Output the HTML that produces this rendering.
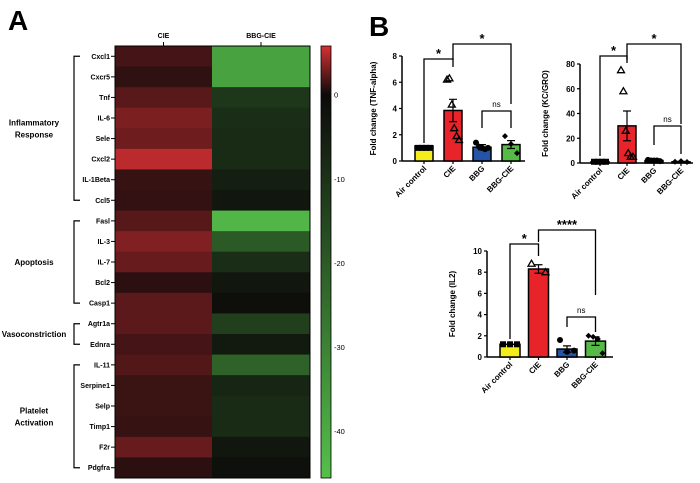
<!DOCTYPE html>
<html><head><meta charset="utf-8"><style>
body{margin:0;background:#fff;}
svg{display:block;font-family:"Liberation Sans",Arial,sans-serif;}
</style></head><body>
<svg id="fig" width="700" height="483" viewBox="0 0 700 483">
<text x="8" y="30" font-size="28" font-weight="bold">A</text>
<text x="369" y="36" font-size="28" font-weight="bold">B</text>
<g id="heat"></g>
<g id="c1"></g>
<g id="c2"></g>
<g id="c3"></g>
</svg>
<script>
const genes=["Cxcl1","Cxcr5","Tnf","IL-6","Sele","Cxcl2","IL-1Beta","Ccl5","Fasl","IL-3","IL-7","Bcl2","Casp1","Agtr1a","Ednra","IL-11","Serpine1","Selp","Timp1","F2r","Pdgfra"];
const heatCols=["CIE","BBG-CIE"];
const cieVals=[1.6,1.0,2.2,3.2,2.8,5.0,1.2,1.1,2.1,3.3,2.6,0.9,2.3,2.3,1.6,2.0,1.3,1.3,1.2,2.6,0.9];
const bbgVals=[-38,-38,-11,-9,-8,-8,-5,-3,-43,-20,-9,-3,-1,-13,-4,-22,-7,-8,-8,-3,-1.5];
const cbTicks=[0,-10,-20,-30,-40];
const groups=[["Inflammatory","Response",0,7],["Apoptosis","",8,12],["Vasoconstriction","",13,14],["Platelet","Activation",15,20]];

const tnfCats=["Air control","CIE","BBG","BBG-CIE"];
const tnfMeans=[1.15,3.85,1.05,1.25];
const tnfErr=[0,0.85,0.2,0.3];
const tnfPts=[[1,1,1,1],[6.2,6.3,4.3,2.5,1.9,1.6],[1.4,1.1,1.0,0.9,1.0],[1.9,1.3,0.6]];
const tnfTicks=[0,2,4,6,8];

const kcCats=["Air control","CIE","BBG","BBG-CIE"];
const kcMeans=[1,30,2,1];
const kcErr=[0,12,0.5,0.3];
const kcPts=[[1,1,1,1],[75,58,26,8,5,5],[2.5,2,2,2,1.5],[1,1.5,0.8]];
const kcTicks=[0,20,40,60,80];

const il2Cats=["Air control","CIE","BBG","BBG-CIE"];
const il2Means=[1.2,8.3,0.75,1.5];
const il2Err=[0,0.4,0.3,0.4];
const il2Pts=[[1.2,1.2,1.2],[8.8,8.0],[1.6,0.5,0.6],[2.0,1.9,1.7,0.35]];
const il2Ticks=[0,2,4,6,8,10];

const NS="http://www.w3.org/2000/svg";
function el(p,t,a){const e=document.createElementNS(NS,t);for(const k in a)e.setAttribute(k,a[k]);p.appendChild(e);return e;}

// heatmap
const H=document.getElementById('heat');
const hx0=115,hxm=212,hx1=310,hy0=46,hy1=478,rh=(hy1-hy0)/genes.length;
const vTop=5.8,vBot=-45.6,cbY=v=>hy0+(vTop-v)/(vTop-vBot)*(hy1-hy0);
function col(v){let c;if(v>=0){const t=v/vTop;c=[12+t*(215-12),10+t*(48-10),10+t*(52-10)];}else{const t=v/vBot;c=[12+t*(85-12),10+t*(192-10),10+t*(75-10)];}return `rgb(${c.map(Math.round).join(',')})`;}
genes.forEach((g,i)=>{
  const y=hy0+i*rh;
  const r1=el(H,'rect',{x:hx0,y:y,width:hxm-hx0,height:rh+0.5,fill:col(cieVals[i])});
  
  const r2=el(H,'rect',{x:hxm,y:y,width:hx1-hxm,height:rh+0.5,fill:col(bbgVals[i])});
  
  el(H,'line',{x1:hx0-4,x2:hx0,y1:y+rh/2,y2:y+rh/2,stroke:'#000','stroke-width':1});
  const t=el(H,'text',{x:hx0-5,y:y+rh/2+2.5,'font-size':7,'font-weight':'bold','text-anchor':'end'});t.textContent=g;
  
});
el(H,'rect',{x:hx0,y:hy0,width:hx1-hx0,height:hy1-hy0,fill:'none',stroke:'#000','stroke-width':1});
heatCols.forEach((c,i)=>{const cx=i?(hxm+hx1)/2:(hx0+hxm)/2;
  el(H,'line',{x1:cx,x2:cx,y1:hy0-4,y2:hy0,stroke:'#000'});
  const t=el(H,'text',{x:cx,y:hy0-8,'font-size':7,'font-weight':'bold','text-anchor':'middle'});t.textContent=c;
  });
// colorbar
const defs=el(H,'defs',{});const lg=el(defs,'linearGradient',{id:'cb',x1:0,y1:0,x2:0,y2:1});
[vTop,3,0,-10,-20,-30,-40,vBot].forEach(v=>el(lg,'stop',{offset:(cbY(v)-hy0)/(hy1-hy0),'stop-color':col(v)}));
const cb=el(H,'rect',{x:321,y:hy0,width:10,height:hy1-hy0,fill:'url(#cb)',stroke:'#000','stroke-width':0.8});

cbTicks.forEach(v=>{const t=el(H,'text',{x:334,y:cbY(v)+3,'font-size':7.5});t.textContent=v===0?'0':String(v);
  });
groups.forEach(g=>{const ya=hy0+g[2]*rh+rh/2,yb=hy0+g[3]*rh+rh/2;
  el(H,'path',{d:`M80 ${ya}H74V${yb}H80`,fill:'none',stroke:'#000','stroke-width':1.2});
  const ym=(ya+yb)/2;const t=el(H,'text',{x:34,y:g[1]?ym-3:ym+3,'font-size':8,'font-weight':'bold','text-anchor':'middle'});
  
  el(t,'tspan',{x:34}).textContent=g[0];if(g[1]){el(t,'tspan',{x:34,dy:12}).textContent=g[1];}});

// bar charts
const fills=['#f5ec1b','#e8232a','#2553a8','#57b947'];
const marks=['sq','tri','circ','diamond'];
function chart(id,cfg){
  const G=document.getElementById(id);
  const yS=v=>cfg.y0-(v/cfg.max)*(cfg.y0-cfg.yTop);
  const xS=i=>cfg.x1+i*cfg.step;
  el(G,'line',{x1:cfg.ax,x2:cfg.ax,y1:yS(cfg.max),y2:cfg.y0,stroke:'#000','stroke-width':1.5});
  el(G,'line',{x1:cfg.ax,x2:cfg.axEnd,y1:cfg.y0,y2:cfg.y0,stroke:'#000','stroke-width':1.5});
  cfg.ticks.forEach(v=>{el(G,'line',{x1:cfg.ax-3,x2:cfg.ax,y1:yS(v),y2:yS(v),stroke:'#000','stroke-width':1.2});
    const t=el(G,'text',{x:cfg.ax-5,y:yS(v)+3,'font-size':8,'font-weight':'bold','text-anchor':'end'});t.textContent=v;
    });
  const tt=el(G,'text',{transform:`translate(${cfg.titleX},${(cfg.y0+yS(cfg.max))/2}) rotate(-90)`,'font-size':8,'font-weight':'bold','text-anchor':'middle'});
  tt.textContent=cfg.title;
  cfg.cats.forEach((c,i)=>{const cx=xS(i),w=cfg.bw,m=cfg.means[i];
    const b=el(G,'rect',{x:cx-w/2,y:yS(m),width:w,height:cfg.y0-yS(m),fill:fills[i],stroke:'#000','stroke-width':1.5});
    
    if(cfg.err[i]>0){el(G,'path',{d:`M${cx} ${yS(m-cfg.err[i])}V${yS(m+cfg.err[i])}M${cx-4} ${yS(m+cfg.err[i])}H${cx+4}M${cx-4} ${yS(m-cfg.err[i])}H${cx+4}`,stroke:'#000','stroke-width':1.2,fill:'none'});}
    cfg.pts[i].forEach((v,j)=>{const n=cfg.pts[i].length;const px=cx+(j-(n-1)/2)*(w-6)/Math.max(n-1,1),py=yS(v);
      let p;if(marks[i]==='sq')p=el(G,'rect',{x:px-3,y:py-3,width:6,height:6,fill:'#000'});
      else if(marks[i]==='tri')p=el(G,'path',{d:`M${px} ${py-3.5}L${px+3.5} ${py+2.5}L${px-3.5} ${py+2.5}Z`,fill:'none',stroke:'#000','stroke-width':1.3});
      else if(marks[i]==='circ')p=el(G,'circle',{cx:px,cy:py,r:3,fill:'#000'});
      else p=el(G,'path',{d:`M${px} ${py-3}L${px+3} ${py}L${px} ${py+3}L${px-3} ${py}Z`,fill:'#000'});
      });
    el(G,'line',{x1:cx,x2:cx,y1:cfg.y0,y2:cfg.y0+3,stroke:'#000','stroke-width':1.2});
    const t=el(G,'text',{transform:`translate(${cx+3},${cfg.y0+8}) rotate(-45)`,'font-size':8,'font-weight':'bold','text-anchor':'end'});
    t.textContent=c;});
  cfg.br.forEach(b=>{const xa=xS(b[0]),xb=xS(b[1]);
    el(G,'path',{d:`M${xa} ${b[3]}V${b[2]}H${xb}V${b[4]}`,fill:'none',stroke:'#000','stroke-width':1.3});
    const t=el(G,'text',{x:(xa+xb)/2,y:b[5]==='ns'?b[2]-4:b[2]-1,'font-size':b[5]==='ns'?8:13,'font-weight':b[5]==='ns'?'normal':'bold','text-anchor':'middle'});
    t.textContent=b[5];});
}
chart('c1',{cats:tnfCats,means:tnfMeans,err:tnfErr,pts:tnfPts,ticks:tnfTicks,max:8,y0:161,yTop:56,ax:402,axEnd:525,x1:424,step:29,bw:18,titleX:376,title:"Fold change (TNF-alpha)",
  br:[[0,1,59,143,67,'*'],[1,3,44,60,104,'*'],[2,3,111,128,128,'ns']]});
chart('c2',{cats:kcCats,means:kcMeans,err:kcErr,pts:kcPts,ticks:kcTicks,max:80,y0:163,yTop:64,ax:580,axEnd:693,x1:600,step:27,bw:18,titleX:548,title:"Fold change (KC/GRO)",
  br:[[0,1,56,156,63,'*'],[1,3,44,60,124,'*'],[2,3,126,145,154,'ns']]});
chart('c3',{cats:il2Cats,means:il2Means,err:il2Err,pts:il2Pts,ticks:il2Ticks,max:10,y0:357,yTop:251,ax:487,axEnd:613,x1:510,step:28.5,bw:20,titleX:455,title:"Fold change (IL2)",
  br:[[0,1,244,339,256,'*'],[1,3,230,242,295,'****'],[2,3,317,327,332,'ns']]});
</script>
</body></html>
